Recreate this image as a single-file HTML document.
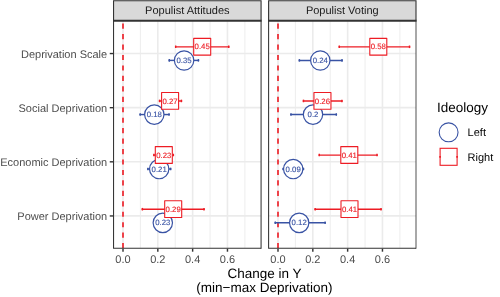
<!DOCTYPE html>
<html><head><meta charset="utf-8"><title>plot</title>
<style>html,body{margin:0;padding:0;background:#fff;overflow:hidden}body{width:500px;height:297px;position:relative;font-family:"Liberation Sans",sans-serif}</style>
</head><body>
<svg width="500" height="297" viewBox="0 0 500 297" style="position:absolute;left:0;top:0;will-change:transform;text-rendering:geometricPrecision;font-family:'Liberation Sans',sans-serif">
<rect x="0" y="0" width="500" height="297" fill="#fff"/>
<line x1="140.41" x2="140.41" y1="20.8" y2="248.2" stroke="#EBEBEB" stroke-width="0.9"/>
<line x1="175.23" x2="175.23" y1="20.8" y2="248.2" stroke="#EBEBEB" stroke-width="0.9"/>
<line x1="210.05" x2="210.05" y1="20.8" y2="248.2" stroke="#EBEBEB" stroke-width="0.9"/>
<line x1="244.87" x2="244.87" y1="20.8" y2="248.2" stroke="#EBEBEB" stroke-width="0.9"/>
<line x1="123.00" x2="123.00" y1="20.8" y2="248.2" stroke="#EBEBEB" stroke-width="1.6"/>
<line x1="157.82" x2="157.82" y1="20.8" y2="248.2" stroke="#EBEBEB" stroke-width="1.6"/>
<line x1="192.64" x2="192.64" y1="20.8" y2="248.2" stroke="#EBEBEB" stroke-width="1.6"/>
<line x1="227.46" x2="227.46" y1="20.8" y2="248.2" stroke="#EBEBEB" stroke-width="1.6"/>
<line x1="113.55" x2="261.08" y1="53.5" y2="53.5" stroke="#EBEBEB" stroke-width="1.6"/>
<line x1="113.55" x2="261.08" y1="107.63" y2="107.63" stroke="#EBEBEB" stroke-width="1.6"/>
<line x1="113.55" x2="261.08" y1="161.77" y2="161.77" stroke="#EBEBEB" stroke-width="1.6"/>
<line x1="113.55" x2="261.08" y1="215.9" y2="215.9" stroke="#EBEBEB" stroke-width="1.6"/>
<line x1="123.00" x2="123.00" y1="248.2" y2="21.8" stroke="#ED1C24" stroke-opacity="0.9" stroke-width="1.8" stroke-dasharray="5.15 5.3"/>
<line x1="295.41" x2="295.41" y1="20.8" y2="248.2" stroke="#EBEBEB" stroke-width="0.9"/>
<line x1="330.23" x2="330.23" y1="20.8" y2="248.2" stroke="#EBEBEB" stroke-width="0.9"/>
<line x1="365.05" x2="365.05" y1="20.8" y2="248.2" stroke="#EBEBEB" stroke-width="0.9"/>
<line x1="399.87" x2="399.87" y1="20.8" y2="248.2" stroke="#EBEBEB" stroke-width="0.9"/>
<line x1="278.00" x2="278.00" y1="20.8" y2="248.2" stroke="#EBEBEB" stroke-width="1.6"/>
<line x1="312.82" x2="312.82" y1="20.8" y2="248.2" stroke="#EBEBEB" stroke-width="1.6"/>
<line x1="347.64" x2="347.64" y1="20.8" y2="248.2" stroke="#EBEBEB" stroke-width="1.6"/>
<line x1="382.46" x2="382.46" y1="20.8" y2="248.2" stroke="#EBEBEB" stroke-width="1.6"/>
<line x1="268.6" x2="416.0" y1="53.5" y2="53.5" stroke="#EBEBEB" stroke-width="1.6"/>
<line x1="268.6" x2="416.0" y1="107.63" y2="107.63" stroke="#EBEBEB" stroke-width="1.6"/>
<line x1="268.6" x2="416.0" y1="161.77" y2="161.77" stroke="#EBEBEB" stroke-width="1.6"/>
<line x1="268.6" x2="416.0" y1="215.9" y2="215.9" stroke="#EBEBEB" stroke-width="1.6"/>
<line x1="278.00" x2="278.00" y1="248.2" y2="21.8" stroke="#ED1C24" stroke-opacity="0.9" stroke-width="1.8" stroke-dasharray="5.15 5.3"/>
<line x1="168.5" x2="199.2" y1="60.40" y2="60.40" stroke="#3953A4" stroke-width="1.45"/>
<line x1="169.30" x2="169.30" y1="59.05" y2="61.65" stroke="#3953A4" stroke-width="1.4"/>
<line x1="198.40" x2="198.40" y1="59.05" y2="61.65" stroke="#3953A4" stroke-width="1.4"/>
<line x1="174.9" x2="229.5" y1="46.85" y2="46.85" stroke="#ED1C24" stroke-width="1.45"/>
<line x1="175.70" x2="175.70" y1="45.50" y2="48.10" stroke="#ED1C24" stroke-width="1.4"/>
<line x1="228.70" x2="228.70" y1="45.50" y2="48.10" stroke="#ED1C24" stroke-width="1.4"/>
<line x1="139.4" x2="169.8" y1="114.55" y2="114.55" stroke="#3953A4" stroke-width="1.45"/>
<line x1="140.20" x2="140.20" y1="113.20" y2="115.80" stroke="#3953A4" stroke-width="1.4"/>
<line x1="169.00" x2="169.00" y1="113.20" y2="115.80" stroke="#3953A4" stroke-width="1.4"/>
<line x1="158.8" x2="182.2" y1="100.98" y2="100.98" stroke="#ED1C24" stroke-width="1.45"/>
<line x1="159.60" x2="159.60" y1="99.63" y2="102.23" stroke="#ED1C24" stroke-width="1.4"/>
<line x1="181.40" x2="181.40" y1="99.63" y2="102.23" stroke="#ED1C24" stroke-width="1.4"/>
<line x1="147.1" x2="171.4" y1="169.00" y2="169.00" stroke="#3953A4" stroke-width="1.45"/>
<line x1="147.90" x2="147.90" y1="167.65" y2="170.25" stroke="#3953A4" stroke-width="1.4"/>
<line x1="170.60" x2="170.60" y1="167.65" y2="170.25" stroke="#3953A4" stroke-width="1.4"/>
<line x1="153.1" x2="174.1" y1="155.12" y2="155.12" stroke="#ED1C24" stroke-width="1.45"/>
<line x1="153.90" x2="153.90" y1="153.77" y2="156.37" stroke="#ED1C24" stroke-width="1.4"/>
<line x1="173.30" x2="173.30" y1="153.77" y2="156.37" stroke="#ED1C24" stroke-width="1.4"/>
<line x1="158" x2="168" y1="222.80" y2="222.80" stroke="#3953A4" stroke-width="1.45"/>
<line x1="158.80" x2="158.80" y1="221.45" y2="224.05" stroke="#3953A4" stroke-width="1.4"/>
<line x1="167.20" x2="167.20" y1="221.45" y2="224.05" stroke="#3953A4" stroke-width="1.4"/>
<line x1="141.6" x2="204.8" y1="209.25" y2="209.25" stroke="#ED1C24" stroke-width="1.45"/>
<line x1="142.40" x2="142.40" y1="207.90" y2="210.50" stroke="#ED1C24" stroke-width="1.4"/>
<line x1="204.00" x2="204.00" y1="207.90" y2="210.50" stroke="#ED1C24" stroke-width="1.4"/>
<circle cx="184.1" cy="60.47" r="9.68" fill="#fff" stroke="#3953A4" stroke-width="1.2"/>
<circle cx="154.3" cy="114.62" r="9.68" fill="#fff" stroke="#3953A4" stroke-width="1.2"/>
<circle cx="159.2" cy="169.07" r="9.68" fill="#fff" stroke="#3953A4" stroke-width="1.2"/>
<circle cx="162.8" cy="222.87" r="9.68" fill="#fff" stroke="#3953A4" stroke-width="1.2"/>
<rect x="193.70" y="38.35" width="17" height="16.8" fill="#fff" stroke="#ED1C24" stroke-width="1.1" stroke-linejoin="round"/>
<rect x="161.60" y="92.48" width="17" height="16.8" fill="#fff" stroke="#ED1C24" stroke-width="1.1" stroke-linejoin="round"/>
<rect x="155.30" y="146.62" width="17" height="16.8" fill="#fff" stroke="#ED1C24" stroke-width="1.1" stroke-linejoin="round"/>
<rect x="164.70" y="200.75" width="17" height="16.8" fill="#fff" stroke="#ED1C24" stroke-width="1.1" stroke-linejoin="round"/>
<text x="184.1" y="63.00" font-size="7.8" fill="#3953A4" stroke="#3953A4" stroke-width="0.12" text-anchor="middle">0.35</text>
<text x="202.2" y="49.45" font-size="7.8" fill="#ED1C24" stroke="#ED1C24" stroke-width="0.12" text-anchor="middle">0.45</text>
<text x="154.3" y="117.15" font-size="7.8" fill="#3953A4" stroke="#3953A4" stroke-width="0.12" text-anchor="middle">0.18</text>
<text x="170.1" y="103.58" font-size="7.8" fill="#ED1C24" stroke="#ED1C24" stroke-width="0.12" text-anchor="middle">0.27</text>
<text x="159.2" y="171.60" font-size="7.8" fill="#3953A4" stroke="#3953A4" stroke-width="0.12" text-anchor="middle">0.21</text>
<text x="163.8" y="157.72" font-size="7.8" fill="#ED1C24" stroke="#ED1C24" stroke-width="0.12" text-anchor="middle">0.23</text>
<text x="162.8" y="225.40" font-size="7.8" fill="#3953A4" stroke="#3953A4" stroke-width="0.12" text-anchor="middle">0.23</text>
<text x="173.2" y="211.85" font-size="7.8" fill="#ED1C24" stroke="#ED1C24" stroke-width="0.12" text-anchor="middle">0.29</text>
<line x1="298.6" x2="342.8" y1="60.40" y2="60.40" stroke="#3953A4" stroke-width="1.45"/>
<line x1="299.40" x2="299.40" y1="59.05" y2="61.65" stroke="#3953A4" stroke-width="1.4"/>
<line x1="342.00" x2="342.00" y1="59.05" y2="61.65" stroke="#3953A4" stroke-width="1.4"/>
<line x1="338.5" x2="410.3" y1="46.85" y2="46.85" stroke="#ED1C24" stroke-width="1.45"/>
<line x1="339.30" x2="339.30" y1="45.50" y2="48.10" stroke="#ED1C24" stroke-width="1.4"/>
<line x1="409.50" x2="409.50" y1="45.50" y2="48.10" stroke="#ED1C24" stroke-width="1.4"/>
<line x1="290.2" x2="337.1" y1="114.55" y2="114.55" stroke="#3953A4" stroke-width="1.45"/>
<line x1="291.00" x2="291.00" y1="113.20" y2="115.80" stroke="#3953A4" stroke-width="1.4"/>
<line x1="336.30" x2="336.30" y1="113.20" y2="115.80" stroke="#3953A4" stroke-width="1.4"/>
<line x1="302.7" x2="342.7" y1="100.98" y2="100.98" stroke="#ED1C24" stroke-width="1.45"/>
<line x1="303.50" x2="303.50" y1="99.63" y2="102.23" stroke="#ED1C24" stroke-width="1.4"/>
<line x1="341.90" x2="341.90" y1="99.63" y2="102.23" stroke="#ED1C24" stroke-width="1.4"/>
<line x1="282.4" x2="304.2" y1="169.00" y2="169.00" stroke="#3953A4" stroke-width="1.45"/>
<line x1="283.20" x2="283.20" y1="167.65" y2="170.25" stroke="#3953A4" stroke-width="1.4"/>
<line x1="303.40" x2="303.40" y1="167.65" y2="170.25" stroke="#3953A4" stroke-width="1.4"/>
<line x1="318.5" x2="377.8" y1="155.12" y2="155.12" stroke="#ED1C24" stroke-width="1.45"/>
<line x1="319.30" x2="319.30" y1="153.77" y2="156.37" stroke="#ED1C24" stroke-width="1.4"/>
<line x1="377.00" x2="377.00" y1="153.77" y2="156.37" stroke="#ED1C24" stroke-width="1.4"/>
<line x1="274.5" x2="325.9" y1="222.80" y2="222.80" stroke="#3953A4" stroke-width="1.45"/>
<line x1="275.30" x2="275.30" y1="221.45" y2="224.05" stroke="#3953A4" stroke-width="1.4"/>
<line x1="325.10" x2="325.10" y1="221.45" y2="224.05" stroke="#3953A4" stroke-width="1.4"/>
<line x1="314.4" x2="381.8" y1="209.25" y2="209.25" stroke="#ED1C24" stroke-width="1.45"/>
<line x1="315.20" x2="315.20" y1="207.90" y2="210.50" stroke="#ED1C24" stroke-width="1.4"/>
<line x1="381.00" x2="381.00" y1="207.90" y2="210.50" stroke="#ED1C24" stroke-width="1.4"/>
<circle cx="320.3" cy="60.47" r="9.68" fill="#fff" stroke="#3953A4" stroke-width="1.2"/>
<circle cx="313.0" cy="114.62" r="9.68" fill="#fff" stroke="#3953A4" stroke-width="1.2"/>
<circle cx="293.2" cy="169.07" r="9.68" fill="#fff" stroke="#3953A4" stroke-width="1.2"/>
<circle cx="299.2" cy="222.87" r="9.68" fill="#fff" stroke="#3953A4" stroke-width="1.2"/>
<rect x="369.80" y="38.35" width="17" height="16.8" fill="#fff" stroke="#ED1C24" stroke-width="1.1" stroke-linejoin="round"/>
<rect x="313.95" y="92.48" width="17" height="16.8" fill="#fff" stroke="#ED1C24" stroke-width="1.1" stroke-linejoin="round"/>
<rect x="340.80" y="146.62" width="17" height="16.8" fill="#fff" stroke="#ED1C24" stroke-width="1.1" stroke-linejoin="round"/>
<rect x="341.00" y="200.75" width="17" height="16.8" fill="#fff" stroke="#ED1C24" stroke-width="1.1" stroke-linejoin="round"/>
<text x="320.3" y="63.00" font-size="7.8" fill="#3953A4" stroke="#3953A4" stroke-width="0.12" text-anchor="middle">0.24</text>
<text x="378.3" y="49.45" font-size="7.8" fill="#ED1C24" stroke="#ED1C24" stroke-width="0.12" text-anchor="middle">0.58</text>
<text x="313.0" y="117.15" font-size="7.8" fill="#3953A4" stroke="#3953A4" stroke-width="0.12" text-anchor="middle">0.2</text>
<text x="322.45" y="103.58" font-size="7.8" fill="#ED1C24" stroke="#ED1C24" stroke-width="0.12" text-anchor="middle">0.26</text>
<text x="293.2" y="171.60" font-size="7.8" fill="#3953A4" stroke="#3953A4" stroke-width="0.12" text-anchor="middle">0.09</text>
<text x="349.3" y="157.72" font-size="7.8" fill="#ED1C24" stroke="#ED1C24" stroke-width="0.12" text-anchor="middle">0.41</text>
<text x="299.2" y="225.40" font-size="7.8" fill="#3953A4" stroke="#3953A4" stroke-width="0.12" text-anchor="middle">0.12</text>
<text x="349.5" y="211.85" font-size="7.8" fill="#ED1C24" stroke="#ED1C24" stroke-width="0.12" text-anchor="middle">0.41</text>
<rect x="113.55" y="0.7" width="147.53" height="20.10" fill="#D9D9D9"/>
<path d="M113.55 20.8 V0.7 H261.08 V20.8" fill="none" stroke="#333" stroke-width="1.1"/>
<path d="M113.55 20.8 V248.2 H261.08" fill="none" stroke="#333" stroke-width="1.05"/>
<line x1="261.08" x2="261.08" y1="20.8" y2="248.72" stroke="#333" stroke-width="1.05"/>
<line x1="113.0" x2="261.63" y1="20.85" y2="20.85" stroke="#333" stroke-width="2.0"/>
<text x="187.31" y="14.1" font-size="11" fill="#1A1A1A" text-anchor="middle">Populist Attitudes</text>
<rect x="268.6" y="0.7" width="147.40" height="20.10" fill="#D9D9D9"/>
<path d="M268.6 20.8 V0.7 H416.0 V20.8" fill="none" stroke="#333" stroke-width="1.1"/>
<path d="M268.6 20.8 V248.2 H416.0" fill="none" stroke="#333" stroke-width="1.05"/>
<line x1="416.0" x2="416.0" y1="20.8" y2="248.72" stroke="#333" stroke-width="0.85"/>
<line x1="268.05" x2="416.55" y1="20.85" y2="20.85" stroke="#333" stroke-width="2.0"/>
<text x="342.30" y="14.1" font-size="11" fill="#1A1A1A" text-anchor="middle">Populist Voting</text>
<line x1="123.00" x2="123.00" y1="248.7" y2="251.7" stroke="#333" stroke-width="1.45"/>
<text x="123.00" y="262.6" font-size="11" fill="#4D4D4D" text-anchor="middle">0.0</text>
<line x1="157.82" x2="157.82" y1="248.7" y2="251.7" stroke="#333" stroke-width="1.45"/>
<text x="157.82" y="262.6" font-size="11" fill="#4D4D4D" text-anchor="middle">0.2</text>
<line x1="192.64" x2="192.64" y1="248.7" y2="251.7" stroke="#333" stroke-width="1.45"/>
<text x="192.64" y="262.6" font-size="11" fill="#4D4D4D" text-anchor="middle">0.4</text>
<line x1="227.46" x2="227.46" y1="248.7" y2="251.7" stroke="#333" stroke-width="1.45"/>
<text x="227.46" y="262.6" font-size="11" fill="#4D4D4D" text-anchor="middle">0.6</text>
<line x1="278.00" x2="278.00" y1="248.7" y2="251.7" stroke="#333" stroke-width="1.45"/>
<text x="278.00" y="262.6" font-size="11" fill="#4D4D4D" text-anchor="middle">0.0</text>
<line x1="312.82" x2="312.82" y1="248.7" y2="251.7" stroke="#333" stroke-width="1.45"/>
<text x="312.82" y="262.6" font-size="11" fill="#4D4D4D" text-anchor="middle">0.2</text>
<line x1="347.64" x2="347.64" y1="248.7" y2="251.7" stroke="#333" stroke-width="1.45"/>
<text x="347.64" y="262.6" font-size="11" fill="#4D4D4D" text-anchor="middle">0.4</text>
<line x1="382.46" x2="382.46" y1="248.7" y2="251.7" stroke="#333" stroke-width="1.45"/>
<text x="382.46" y="262.6" font-size="11" fill="#4D4D4D" text-anchor="middle">0.6</text>
<line x1="109.75" x2="113.05" y1="53.55" y2="53.55" stroke="#333" stroke-width="1.4"/>
<text x="107.2" y="57.50" font-size="11" fill="#4D4D4D" text-anchor="end">Deprivation Scale</text>
<line x1="109.75" x2="113.05" y1="107.67999999999999" y2="107.67999999999999" stroke="#333" stroke-width="1.4"/>
<text x="107.2" y="111.63" font-size="11" fill="#4D4D4D" text-anchor="end">Social Deprivation</text>
<line x1="109.75" x2="113.05" y1="161.82000000000002" y2="161.82000000000002" stroke="#333" stroke-width="1.4"/>
<text x="107.2" y="165.77" font-size="11" fill="#4D4D4D" text-anchor="end">Economic Deprivation</text>
<line x1="109.75" x2="113.05" y1="215.95000000000002" y2="215.95000000000002" stroke="#333" stroke-width="1.4"/>
<text x="107.2" y="219.90" font-size="11" fill="#4D4D4D" text-anchor="end">Power Deprivation</text>
<text x="264.5" y="277.8" font-size="13.5" fill="#000" text-anchor="middle">Change in Y</text>
<text x="264.4" y="291.8" font-size="13.5" fill="#000" text-anchor="middle">(min−max Deprivation)</text>
<text x="437" y="112" font-size="13.5" fill="#000">Ideology</text>
<circle cx="448.6" cy="132.35" r="9.45" fill="#fff" stroke="#3953A4" stroke-width="1.1"/>
<rect x="440.1" y="148.3" width="17" height="17" fill="#fff" stroke="#ED1C24" stroke-width="1.1"/>
<line x1="440.1" x2="440.1" y1="155.9" y2="157.7" stroke="#ED1C24" stroke-width="1.6"/>
<line x1="457.1" x2="457.1" y1="155.9" y2="157.7" stroke="#ED1C24" stroke-width="1.6"/>
<text x="467.6" y="136.35" font-size="11" fill="#000">Left</text>
<text x="467.6" y="160.6" font-size="11" fill="#000">Right</text>
</svg>
</body></html>
